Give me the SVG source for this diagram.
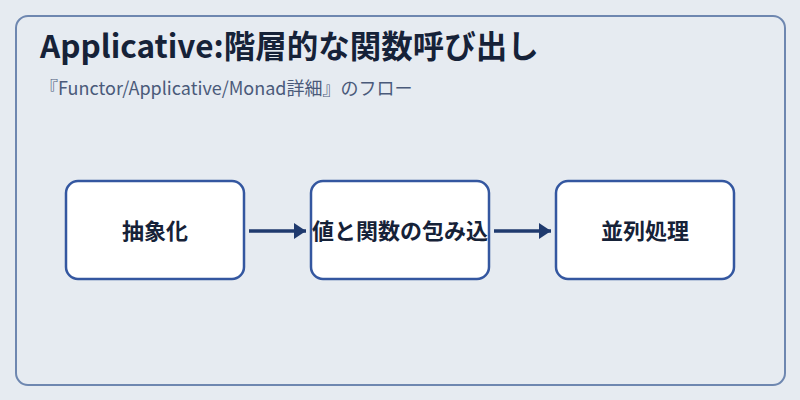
<svg xmlns="http://www.w3.org/2000/svg" width="800" height="400" viewBox="0 0 800 400">
<defs>
<style>
.t{font-family:"Noto Sans CJK JP","Noto Sans",sans-serif}
.title{font-size:31.5px;font-weight:700;fill:#162238}
.sub{font-size:18px;fill:#4a5a7a}
.box{fill:#ffffff;stroke:#3457a0;stroke-width:2.5}
.lbl{font-size:22px;font-weight:700;fill:#162238;text-anchor:middle}
.edge{stroke:#1f3a6e;stroke-width:3.5;fill:none}
</style>
<marker id="ah" markerWidth="12" markerHeight="16" refX="12" refY="8" orient="auto" markerUnits="userSpaceOnUse"><path d="M0,0 L12,8 L0,16 Z" fill="#1f3a6e"/></marker>
</defs>
<rect width="800" height="400" fill="#e6ebf1"/>
<rect x="16" y="16" width="769" height="369" rx="12" fill="#e6ebf1" stroke="#6e87b0" stroke-width="2"/>
<text class="t title" x="40" y="58">Applicative:階層的な関数呼び出し</text>
<text class="t sub" x="40" y="95">『Functor/Applicative/Monad詳細』のフロー</text>
<g id="connectors">
<line class="edge" x1="249" y1="231" x2="306" y2="231" marker-end="url(#ah)"/>
<line class="edge" x1="494" y1="231" x2="551" y2="231" marker-end="url(#ah)"/>
</g>
<g id="n1"><rect class="box" x="66" y="181" width="178" height="98" rx="12"/><text class="t lbl" x="155" y="239">抽象化</text></g>
<g id="n2"><rect class="box" x="311" y="181" width="178" height="98" rx="12"/><text class="t lbl" x="400" y="239">値と関数の包み込</text></g>
<g id="n3"><rect class="box" x="556" y="181" width="178" height="98" rx="12"/><text class="t lbl" x="645" y="239">並列処理</text></g>
</svg>
